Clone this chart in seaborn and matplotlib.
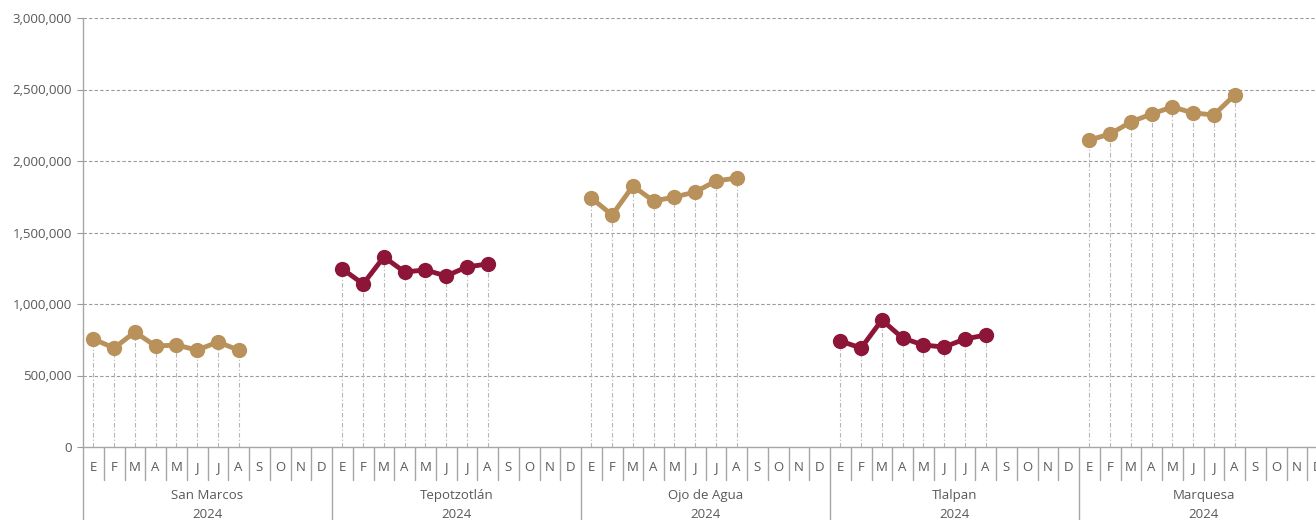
import pandas as pd
import numpy as np
import matplotlib.pyplot as plt
import seaborn as sns
from matplotlib.ticker import FuncFormatter
import matplotlib.transforms as mtransforms

sns.set_style('white')
plt.rcParams['font.family'] = ['Open Sans', 'DejaVu Sans']

# datos
grupos = ['San Marcos', 'Tepotzotlán', 'Ojo de Agua', 'Tlalpan', 'Marquesa']
anio = '2024'
meses = ['E', 'F', 'M', 'A', 'M', 'J', 'J', 'A', 'S', 'O', 'N', 'D']
san_marcos = [755000, 692000, 804000, 706000, 713000, 678000, 734000, 678000]
tepotzotlan = [1245000, 1140000, 1329000, 1224000, 1238000, 1196000, 1259000, 1280000]
ojo_de_agua = [1741000, 1622000, 1825000, 1720000, 1748000, 1783000, 1860000, 1881000]
tlalpan = [741000, 692000, 888000, 762000, 713000, 699000, 755000, 783000]
marquesa = [2147000, 2189000, 2273000, 2329000, 2378000, 2336000, 2322000, 2462000]
colores = ['#B8915B', '#8C1538', '#B8915B', '#8C1538', '#B8915B']

series = [san_marcos, tepotzotlan, ojo_de_agua, tlalpan, marquesa]
filas = []
for g, (nombre, vals) in enumerate(zip(grupos, series)):
    for m, v in enumerate(vals):
        filas.append({'grupo': nombre, 'x': g * 12 + m + 0.5, 'valor': v})
df = pd.DataFrame(filas)

fig = plt.figure(figsize=(13.16, 5.2), dpi=100)
ax = fig.add_axes([83 / 1316, 1 - 447 / 520, (1328 - 83) / 1316, 429 / 520])

# lineas verticales desde cada punto
ax.vlines(df['x'], 0, df['valor'], colors='#b5b5b5', linewidth=0.8,
          linestyles=(0, (4, 2, 1, 2)), zorder=1)

sns.lineplot(data=df, x='x', y='valor', hue='grupo', palette=dict(zip(grupos, colores)),
             marker='o', markersize=11, markeredgewidth=0, linewidth=3.5,
             legend=False, ax=ax, zorder=3)

ax.set_xlim(0, 60)
ax.set_ylim(0, 3000000)
ax.set_yticks(np.arange(0, 3000001, 500000))
ax.yaxis.set_major_formatter(FuncFormatter(lambda v, p: f'{int(v):,}'))
ax.tick_params(axis='y', length=4, color='#999999', labelcolor='#595959', labelsize=9.5, pad=4, left=True)
ax.set_xticks([])
ax.set_xlabel('')
ax.set_ylabel('')
for yv in np.arange(500000, 3000001, 500000):
    ax.axhline(yv, color='#9a9a9a', linewidth=0.8, linestyle=(0, (3, 2)), zorder=0)

for s in ['top', 'right']:
    ax.spines[s].set_visible(False)
for s in ['left', 'bottom']:
    ax.spines[s].set_color('#a6a6a6')
    ax.spines[s].set_linewidth(1)

# ejes de categorias multinivel
trans = mtransforms.blended_transform_factory(ax.transData, ax.transAxes)
for i in range(61):
    bajo = -0.17 if i % 12 == 0 else -0.077
    ax.plot([i, i], [0, bajo], transform=trans, color='#a6a6a6', linewidth=1, clip_on=False)
for g, nombre in enumerate(grupos):
    for m, mes in enumerate(meses):
        ax.text(g * 12 + m + 0.5, -0.047, mes, transform=trans, ha='center', va='center',
                fontsize=9.5, color='#595959', clip_on=False)
    ax.text(g * 12 + 6, -0.112, nombre, transform=trans, ha='center', va='center',
            fontsize=9.5, color='#595959', clip_on=False)
    ax.text(g * 12 + 6, -0.157, anio, transform=trans, ha='center', va='center',
            fontsize=9.5, color='#595959', clip_on=False)

fig.savefig('out.png', dpi=100)
